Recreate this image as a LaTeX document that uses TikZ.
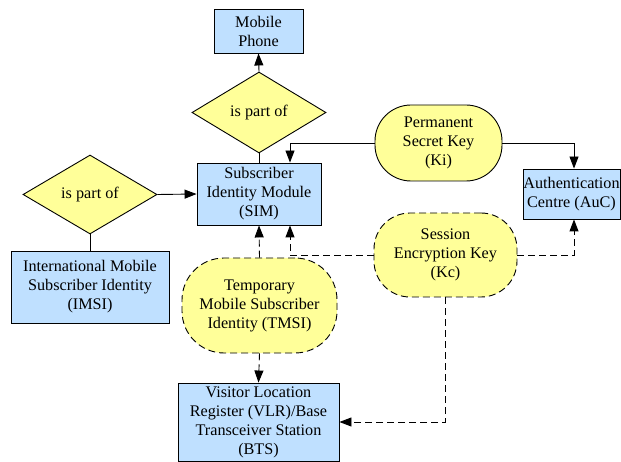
\documentclass[tikz,border=0pt]{standalone}
\usepackage{fontspec}
\setmainfont{Liberation Serif}
\newfontfamily\diafont{Liberation Serif}
\usetikzlibrary{shapes.geometric,arrows.meta,calc}
\definecolor{boxblue}{RGB}{191,224,255}
\definecolor{keyyellow}{RGB}{255,255,153}
\tikzset{
  every node/.style={font=\diafont\fontsize{16.2}{19}\selectfont, align=center, inner sep=0pt, line width=0.9pt},
  bluebox/.style={draw, fill=boxblue, rectangle},
  relation/.style={draw, fill=keyyellow, diamond},
  keynode/.style={draw, fill=keyyellow, rectangle, rounded corners=36pt},
  dkeynode/.style={keynode, dash pattern=on 7pt off 4pt},
  conn/.style={line width=0.9pt},
  arr/.style={conn, -{Triangle[length=12pt,width=9pt]}},
  darr/.style={arr, dash pattern=on 7pt off 4pt},
}
\begin{document}
\begin{tikzpicture}[x=1pt,y=-1pt]
\useasboundingbox (0,0) rectangle (621,462);
\node[bluebox, minimum width=89pt, minimum height=44pt] (mobile) at (258.5,31) {Mobile\\Phone};
\node[relation, minimum width=134pt, minimum height=81pt] (d1) at (259,112.5) {is part of};
\node[bluebox, minimum width=124pt, minimum height=62pt] (sim) at (259,194) {Subscriber\\Identity Module\\(SIM)};
\node[keynode, minimum width=127pt, minimum height=76pt] (ki) at (438.5,143) {Permanent\\Secret Key\\(Ki)};
\node[bluebox, minimum width=97pt, minimum height=50pt] (auc) at (571.5,194) {Authentication\\Centre (AuC)};
\node[dkeynode, minimum width=143pt, minimum height=84pt] (kc) at (445.5,255) {Session\\Encryption Key\\(Kc)};
\node[dkeynode, minimum width=155pt, minimum height=95pt, rounded corners=42pt] (tmsi) at (259.5,305.5) {Temporary\\Mobile Subscriber\\Identity (TMSI)};
\node[bluebox, minimum width=161pt, minimum height=78pt] (vlr) at (258.5,422) {Visitor Location\\Register (VLR)/Base\\Transceiver Station\\(BTS)};
\node[relation, minimum width=134pt, minimum height=79pt] (d2) at (90,194.5) {is part of};
\node[bluebox, minimum width=158pt, minimum height=72pt] (imsi) at (90,287) {International Mobile\\Subscriber Identity\\(IMSI)};

\draw[conn] (sim.north) -- (d1.south);
\draw[arr] (d1.north) -- (mobile.south);
\draw[arr] (ki.west) -| ([xshift=31pt]sim.north);
\draw[arr] (ki.east) -| ([xshift=2.5pt]auc.north);
\draw[darr] (kc.east) -| ([xshift=2.5pt]auc.south);
\draw[darr] (kc.west) -| ([xshift=31pt]sim.south);
\draw[darr] (tmsi.north) -- (sim.south);
\draw[darr] (tmsi.south) -- (vlr.north);
\draw[darr] (kc.south) |- (vlr.east);
\draw[arr] (d2.east) -- (sim.west);
\draw[conn] (imsi.north) -- (d2.south);
\end{tikzpicture}
\end{document}
